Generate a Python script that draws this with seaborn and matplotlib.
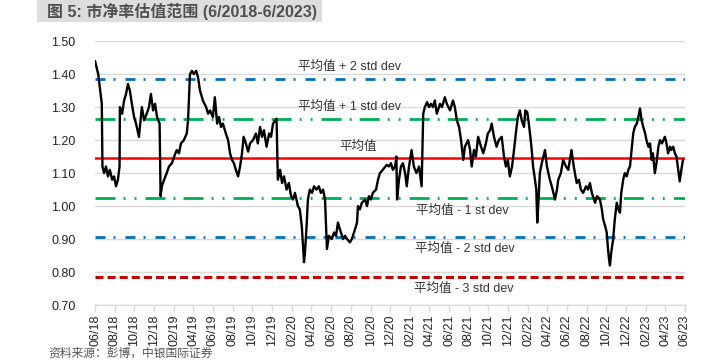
import matplotlib
matplotlib.use("Agg")
import matplotlib.pyplot as plt
import matplotlib.dates as mdates
import matplotlib.patches as mpatches
import seaborn as sns
import pandas as pd

TITLE = "图 5: 市净率估值范围 (6/2018-6/2023)"
SOURCE = "资料来源：彭博，中银国际证券"

# 市净率 (P/B) readings
DATES = [
    "2018-06-01", "2018-06-06", "2018-06-11", "2018-06-16", "2018-06-22", "2018-06-24", "2018-06-29",
    "2018-07-05", "2018-07-11", "2018-07-17", "2018-07-24", "2018-07-30", "2018-08-05", "2018-08-11",
    "2018-08-16", "2018-08-17", "2018-08-24", "2018-08-30", "2018-09-05", "2018-09-11", "2018-09-17",
    "2018-09-23", "2018-09-30", "2018-10-06", "2018-10-15", "2018-10-24", "2018-10-31", "2018-11-08",
    "2018-11-15", "2018-11-21", "2018-11-28", "2018-12-04", "2018-12-10", "2018-12-18", "2018-12-21",
    "2018-12-25", "2019-01-01", "2019-01-09", "2019-01-16", "2019-01-25", "2019-02-01", "2019-02-09",
    "2019-02-16", "2019-02-22", "2019-03-03", "2019-03-12", "2019-03-16", "2019-03-22", "2019-03-28",
    "2019-04-03", "2019-04-10", "2019-04-16", "2019-04-22", "2019-05-01", "2019-05-11", "2019-05-17",
    "2019-05-23", "2019-06-01", "2019-06-07", "2019-06-14", "2019-06-20", "2019-06-26", "2019-07-02",
    "2019-07-11", "2019-07-18", "2019-07-24", "2019-07-30", "2019-08-05", "2019-08-11", "2019-08-18",
    "2019-08-24", "2019-08-30", "2019-09-04", "2019-09-11", "2019-09-18", "2019-09-24", "2019-10-03",
    "2019-10-12", "2019-10-18", "2019-10-25", "2019-10-31", "2019-11-06", "2019-11-14", "2019-11-22",
    "2019-11-28", "2019-12-04", "2019-12-15", "2019-12-19", "2019-12-26", "2020-01-01", "2020-01-07",
    "2020-01-15", "2020-01-22", "2020-01-29", "2020-02-04", "2020-02-10", "2020-02-19", "2020-02-25",
    "2020-03-02", "2020-03-06", "2020-03-09", "2020-03-12", "2020-03-17", "2020-03-21", "2020-03-27",
    "2020-04-03", "2020-04-09", "2020-04-17", "2020-04-24", "2020-04-30", "2020-05-07", "2020-05-13",
    "2020-05-19", "2020-05-25", "2020-06-03", "2020-06-10", "2020-06-16", "2020-06-22", "2020-06-28",
    "2020-07-08", "2020-07-14", "2020-07-20", "2020-07-29", "2020-08-04", "2020-08-14", "2020-08-20",
    "2020-08-23", "2020-08-29", "2020-09-04", "2020-09-14", "2020-09-20", "2020-09-26", "2020-10-02",
    "2020-10-08", "2020-10-18", "2020-10-24", "2020-10-30", "2020-11-08", "2020-11-20", "2020-11-27",
    "2020-12-03", "2020-12-09", "2020-12-16", "2020-12-20", "2020-12-22", "2020-12-28", "2021-01-03",
    "2021-01-09", "2021-01-16", "2021-01-21", "2021-01-28", "2021-02-05", "2021-02-12", "2021-02-20",
    "2021-02-28", "2021-03-08", "2021-03-13", "2021-03-18", "2021-03-25", "2021-03-31", "2021-04-06",
    "2021-04-12", "2021-04-18", "2021-04-24", "2021-05-04", "2021-05-10", "2021-05-19", "2021-05-25",
    "2021-06-04", "2021-06-13", "2021-06-19", "2021-06-25", "2021-07-02", "2021-07-08", "2021-07-15",
    "2021-07-20", "2021-07-30", "2021-08-05", "2021-08-10", "2021-08-17", "2021-08-23", "2021-08-30",
    "2021-09-08", "2021-09-15", "2021-09-23", "2021-09-29", "2021-10-06", "2021-10-11", "2021-10-18",
    "2021-10-26", "2021-11-02", "2021-11-11", "2021-11-18", "2021-11-24", "2021-11-30", "2021-12-06",
    "2021-12-13", "2021-12-19", "2021-12-27", "2021-12-31", "2022-01-06", "2022-01-12", "2022-01-19",
    "2022-01-23", "2022-01-29", "2022-02-03", "2022-02-11", "2022-02-16", "2022-02-22", "2022-02-26",
    "2022-03-01", "2022-03-05", "2022-03-09", "2022-03-15", "2022-03-25", "2022-03-31", "2022-04-09",
    "2022-04-15", "2022-04-25", "2022-05-01", "2022-05-05", "2022-05-13", "2022-05-20", "2022-05-29",
    "2022-06-05", "2022-06-10", "2022-06-15", "2022-06-22", "2022-07-01", "2022-07-08", "2022-07-14",
    "2022-07-21", "2022-07-30", "2022-08-05", "2022-08-11", "2022-08-17", "2022-08-27", "2022-09-02",
    "2022-09-11", "2022-09-17", "2022-09-21", "2022-09-27", "2022-10-02", "2022-10-06", "2022-10-09",
    "2022-10-12", "2022-10-16", "2022-10-22", "2022-10-27", "2022-11-02", "2022-11-07", "2022-11-12",
    "2022-11-16", "2022-11-22", "2022-11-27", "2022-12-03", "2022-12-08", "2022-12-13", "2022-12-18",
    "2022-12-23", "2022-12-28", "2023-01-03", "2023-01-08", "2023-01-13", "2023-01-18", "2023-01-23",
    "2023-01-29", "2023-02-02", "2023-02-08", "2023-02-13", "2023-02-18", "2023-02-22", "2023-02-28",
    "2023-03-05", "2023-03-11", "2023-03-16", "2023-03-22", "2023-03-31", "2023-04-05", "2023-04-10",
    "2023-04-16", "2023-04-20", "2023-04-26", "2023-05-01", "2023-05-06", "2023-05-10", "2023-05-16",
    "2023-05-21", "2023-05-26",
]
PB = [
    1.44, 1.42, 1.40, 1.36, 1.31, 1.12, 1.10,
    1.12, 1.09, 1.11, 1.08, 1.09, 1.06, 1.08,
    1.12, 1.30, 1.28, 1.32, 1.34, 1.37, 1.35,
    1.31, 1.27, 1.25, 1.21, 1.30, 1.26, 1.28,
    1.30, 1.34, 1.29, 1.31, 1.27, 1.25, 1.03,
    1.06, 1.08, 1.10, 1.12, 1.13, 1.15, 1.17,
    1.16, 1.19, 1.20, 1.22, 1.26, 1.40, 1.41,
    1.40, 1.41, 1.39, 1.35, 1.32, 1.30, 1.28,
    1.29, 1.27, 1.33, 1.25, 1.27, 1.24, 1.25,
    1.22, 1.20, 1.16, 1.14, 1.13, 1.11, 1.09,
    1.12, 1.16, 1.21, 1.19, 1.165, 1.19, 1.20,
    1.22, 1.19, 1.24, 1.21, 1.23, 1.18, 1.22,
    1.21, 1.25, 1.265, 1.08, 1.11, 1.07, 1.09,
    1.05, 1.07, 1.03, 1.02, 1.04, 1.00, 0.99,
    0.94, 0.88, 0.83, 0.86, 0.94, 1.02, 1.05,
    1.04, 1.06, 1.05, 1.06, 1.04, 1.05, 1.02,
    0.87, 0.91, 0.90, 0.92, 0.91, 0.95, 0.93,
    0.90, 0.91, 0.90, 0.89, 0.90, 0.93, 0.95,
    1.00, 0.99, 1.01, 1.02, 1.00, 1.03, 1.02,
    1.04, 1.05, 1.08, 1.10, 1.11, 1.125, 1.12,
    1.13, 1.11, 1.12, 1.15, 1.02, 1.08, 1.12,
    1.13, 1.10, 1.06, 1.12, 1.17, 1.12, 1.10,
    1.12, 1.06, 1.28, 1.30, 1.315, 1.30, 1.31,
    1.30, 1.32, 1.28, 1.31, 1.30, 1.33, 1.31,
    1.29, 1.32, 1.30, 1.26, 1.24, 1.20, 1.14,
    1.18, 1.20, 1.17, 1.12, 1.17, 1.15, 1.21,
    1.18, 1.16, 1.19, 1.22, 1.23, 1.25, 1.21,
    1.18, 1.20, 1.21, 1.15, 1.12, 1.14, 1.09,
    1.12, 1.17, 1.24, 1.27, 1.29, 1.26, 1.24,
    1.29, 1.285, 1.25, 1.18, 1.12, 1.08, 1.05,
    0.95, 1.02, 1.10, 1.13, 1.17, 1.12, 1.08,
    1.06, 1.02, 1.05, 1.08, 1.10, 1.14, 1.12,
    1.11, 1.14, 1.17, 1.12, 1.07, 1.08, 1.05,
    1.04, 1.06, 1.05, 1.07, 1.04, 1.01, 1.03,
    1.02, 0.99, 0.96, 0.94, 0.92, 0.87, 0.84,
    0.82, 0.86, 0.90, 0.96, 1.01, 0.99, 0.98,
    1.04, 1.08, 1.10, 1.09, 1.11, 1.12, 1.17,
    1.22, 1.24, 1.25, 1.27, 1.296, 1.26, 1.24,
    1.22, 1.20, 1.18, 1.19, 1.14, 1.16, 1.10,
    1.13, 1.18, 1.20, 1.19, 1.21, 1.19, 1.16,
    1.18, 1.17, 1.18, 1.16, 1.15, 1.12, 1.075,
    1.11, 1.14,
]

MEAN = 1.145
STD = 0.12

LEVELS = [
    # (value, color, dashes in points, width, label, label x (axes frac), label y)
    (MEAN + 2 * STD, "#0070C0", (7.2, 5.8, 1.4, 7.2), 2.0, "平均值 + 2 std dev", 0.344, 1.421),
    (MEAN + 1 * STD, "#00B050", (14.4, 5.8, 1.4, 6.5, 1.4, 6.5, 14.4, 5.8, 1.4, 5.8), 2.0,
     "平均值 + 1 std dev", 0.344, 1.300),
    (MEAN, "#FF0000", None, 1.8, "平均值", 0.415, 1.179),
    (MEAN - 1 * STD, "#00B050", (14.4, 5.8, 1.4, 6.5, 1.4, 6.5, 14.4, 5.8, 1.4, 5.8), 2.0,
     "平均值 - 1 st dev", 0.544, 0.985),
    (MEAN - 2 * STD, "#0070C0", (7.2, 5.8, 1.4, 7.2), 2.0, "平均值 - 2 std dev", 0.542, 0.870),
    (MEAN - 3 * STD, "#C00000", (5.8, 2.9), 2.2, "平均值 - 3 std dev", 0.540, 0.748),
]

FONT = ["Liberation Sans", "Noto Sans CJK SC", "DejaVu Sans"]

sns.set_style("white")
plt.rcParams["font.family"] = FONT
plt.rcParams["lines.scale_dashes"] = False

df = pd.DataFrame({"date": pd.to_datetime(DATES), "pb": PB})

fig = plt.figure(figsize=(7.09, 3.61), dpi=100)
ax = fig.add_axes([0.134, 0.155, 0.832, 0.731])

ax.set_ylim(0.70, 1.50)
ax.set_yticks([0.70 + 0.1 * i for i in range(9)])
ax.yaxis.set_major_formatter(plt.FormatStrFormatter("%.2f"))
ax.grid(axis="y", color="#D9D9D9", linewidth=1.0)
ax.set_axisbelow(True)

for val, color, dashes, lw, label, tx, ty in LEVELS:
    if dashes is None:
        ax.axhline(val, color=color, linewidth=lw, zorder=2)
    else:
        ax.axhline(val, color=color, linewidth=lw, linestyle=(0, dashes), zorder=2)
    ax.text(tx, ty, label, transform=ax.get_yaxis_transform(), ha="left", va="center",
            fontsize=9, color="#333333", family=FONT)

sns.lineplot(data=df, x="date", y="pb", color="black", linewidth=1.7, ax=ax, zorder=3)

ax.set_xlim(pd.Timestamp("2018-06-01"), pd.Timestamp("2023-06-01"))
ax.set_xticks(pd.date_range("2018-06-01", "2023-06-01", freq="2MS"))
ax.xaxis.set_major_formatter(mdates.DateFormatter("%m/%y"))
ax.tick_params(axis="x", rotation=90, labelsize=9, length=5, width=1,
               color="#D9D9D9", pad=2, bottom=True, labelcolor="#222222")
ax.tick_params(axis="y", labelsize=9, length=0, pad=14, labelcolor="#222222")
ax.set_xlabel("")
ax.set_ylabel("")

for side in ["top", "right", "left"]:
    ax.spines[side].set_visible(False)
ax.spines["bottom"].set_color("#D9D9D9")
ax.spines["bottom"].set_linewidth(1.0)

# title bar
fig.patches.append(mpatches.Rectangle((37 / 709, 1 - 22 / 361), (322 - 37) / 709, 22 / 361,
                                      transform=fig.transFigure, facecolor="#DDDDDD",
                                      edgecolor="none", zorder=0))
fig.text(47 / 709, 1 - 11 / 361, TITLE, ha="left", va="center", fontsize=11.5,
         fontweight="bold", color="#505050", family=FONT)

# source line (kept fully inside the canvas)
fig.text(48 / 709, 1.5 / 361, SOURCE, ha="left", va="bottom", fontsize=8.5,
         color="#555555", family=FONT)

fig.savefig("out.png", dpi=100)
plt.close(fig)
